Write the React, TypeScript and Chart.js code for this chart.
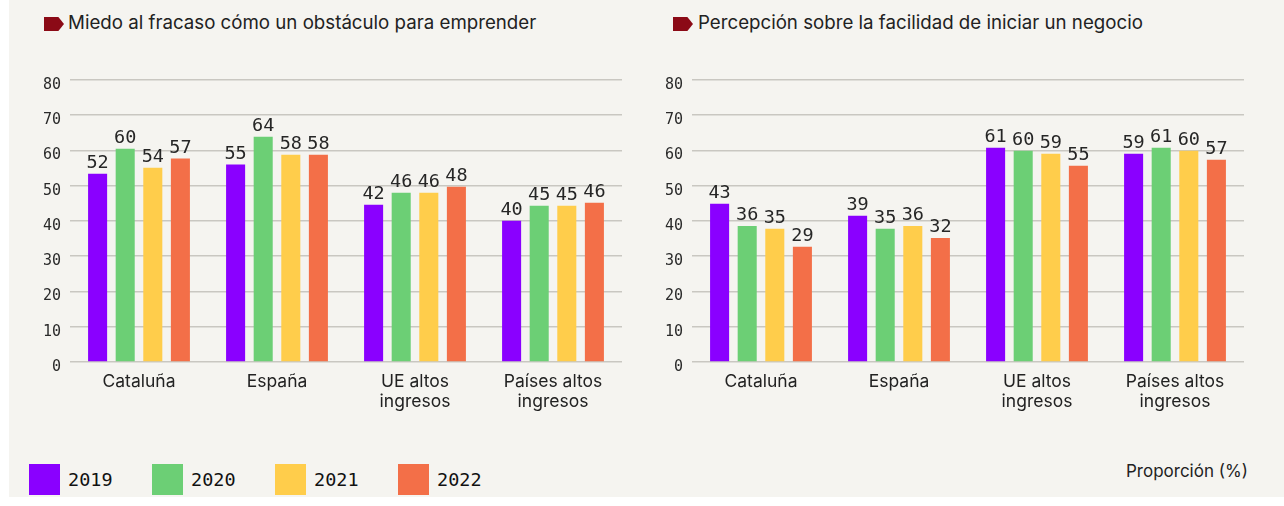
import React, { useEffect, useRef } from "react";
import { Chart, registerables } from "chart.js";

Chart.register(...registerables);

// ---- data ----
const categories: string[][] = [["Cataluña"], ["España"], ["UE altos", "ingresos"], ["Países altos", "ingresos"]];
const years = ["2019", "2020", "2021", "2022"];
const yearColors = ["#8a00ff", "#6ccf75", "#ffcd4b", "#f36f48"];
const yTicks = [0, 10, 20, 30, 40, 50, 60, 70, 80];

const titleMiedo = "Miedo al fracaso cómo un obstáculo para emprender";
const titleFacilidad = "Percepción sobre la facilidad de iniciar un negocio";
const unitLabel = "Proporción (%)";

// bar heights as drawn
const miedo2019 = [53.4, 56.0, 44.6, 40.1];
const miedo2020 = [60.5, 63.9, 48.0, 44.3];
const miedo2021 = [55.1, 58.8, 48.0, 44.3];
const miedo2022 = [57.7, 58.8, 49.7, 45.2];
// printed values
const miedoLbl2019 = [52, 55, 42, 40];
const miedoLbl2020 = [60, 64, 46, 45];
const miedoLbl2021 = [54, 58, 46, 45];
const miedoLbl2022 = [57, 58, 48, 46];

const facil2019 = [44.9, 41.5, 60.8, 59.1];
const facil2020 = [38.6, 37.8, 59.9, 60.8];
const facil2021 = [37.8, 38.6, 59.1, 59.9];
const facil2022 = [32.7, 35.2, 55.7, 57.4];
const facilLbl2019 = [43, 39, 61, 59];
const facilLbl2020 = [36, 35, 60, 61];
const facilLbl2021 = [35, 36, 59, 60];
const facilLbl2022 = [29, 32, 55, 57];

const SANS = "Inter, Roboto, 'Noto Sans', sans-serif";
const MONO = "'DejaVu Sans Mono', monospace";

const valueLabelPlugin = {
  id: "valueLabels",
  afterDatasetsDraw(chart: any, _args: any, opts: any) {
    const ctx = chart.ctx;
    const labels: number[][] = opts.labels || [];
    ctx.save();
    ctx.font = `18.5px ${MONO}`;
    ctx.fillStyle = "#262626";
    ctx.textAlign = "center";
    ctx.textBaseline = "alphabetic";
    chart.data.datasets.forEach((ds: any, di: number) => {
      const meta = chart.getDatasetMeta(di);
      meta.data.forEach((bar: any, i: number) => {
        const txt = labels[di] ? String(labels[di][i]) : "";
        ctx.fillText(txt, bar.x, bar.y - 6);
      });
    });
    ctx.restore();
  },
};

function BarPanel({ series, labels }: { series: number[][]; labels: number[][] }) {
  const ref = useRef<HTMLCanvasElement>(null);
  useEffect(() => {
    if (!ref.current) return;
    const chart = new Chart(ref.current, {
      type: "bar",
      data: {
        labels: categories,
        datasets: years.map((y, i) => ({
          label: y,
          data: series[i],
          backgroundColor: yearColors[i],
          borderWidth: 0,
          categoryPercentage: 0.8,
          barPercentage: 0.69,
        })),
      },
      options: {
        responsive: false,
        animation: false,
        maintainAspectRatio: false,
        layout: { padding: { top: 20, right: 18, left: 0, bottom: 0 } },
        plugins: {
          legend: { display: false },
          tooltip: { enabled: false },
          valueLabels: { labels },
        } as any,
        scales: {
          x: {
            grid: { display: false },
            border: { display: false },
            ticks: {
              color: "#222",
              font: { family: SANS, size: 17.5, lineHeight: 1.14 },
              padding: 2,
              maxRotation: 0,
              autoSkip: false,
            },
            afterFit: (s: any) => {
              s.height = 68;
            },
          },
          y: {
            min: yTicks[0],
            max: yTicks[yTicks.length - 1],
            afterBuildTicks: (s: any) => {
              s.ticks = yTicks.map((v) => ({ value: v }));
            },
            grid: { color: "#c9c7c1", lineWidth: 1.6, drawTicks: false },
            border: { display: false },
            ticks: {
              color: "#2a2a2a",
              font: { family: MONO, size: 15 },
              padding: 9,
              labelOffset: 5,
            },
            afterFit: (s: any) => {
              s.width = 50;
            },
          },
        },
      },
      plugins: [valueLabelPlugin],
    } as any);
    return () => chart.destroy();
  }, [series, labels]);
  return <canvas ref={ref} width={620} height={370} style={{ width: 620, height: 370, display: "block" }} />;
}

function Marker({ left, top }: { left: number; top: number }) {
  return (
    <div
      style={{
        position: "absolute",
        left,
        top,
        width: 20,
        height: 14,
        background: "#8b0a16",
        clipPath: "polygon(0 0, 72% 0, 100% 50%, 72% 100%, 0 100%)",
      }}
    />
  );
}

export default function App() {
  const miedoSeries = [miedo2019, miedo2020, miedo2021, miedo2022];
  const miedoLabels = [miedoLbl2019, miedoLbl2020, miedoLbl2021, miedoLbl2022];
  const facilSeries = [facil2019, facil2020, facil2021, facil2022];
  const facilLabels = [facilLbl2019, facilLbl2020, facilLbl2021, facilLbl2022];
  const titleStyle: React.CSSProperties = {
    position: "absolute",
    top: 11,
    fontFamily: SANS,
    fontSize: 18.7,
    color: "#222",
    whiteSpace: "nowrap",
    lineHeight: "24px",
  };
  return (
    <div style={{ position: "absolute", left: 0, top: 0, width: 1284, height: 506, background: "#fff", overflow: "hidden" }}>
      <div style={{ position: "absolute", left: 9, top: 0, width: 1275, height: 497, background: "#f5f4f0" }} />
      <Marker left={44} top={17} />
      <div style={{ ...titleStyle, left: 68 }}>{titleMiedo}</div>
      <Marker left={673} top={17} />
      <div style={{ ...titleStyle, left: 698 }}>{titleFacilidad}</div>
      <div style={{ position: "absolute", left: 20, top: 60 }}>
        <BarPanel series={miedoSeries} labels={miedoLabels} />
      </div>
      <div style={{ position: "absolute", left: 642, top: 60 }}>
        <BarPanel series={facilSeries} labels={facilLabels} />
      </div>
      {years.map((y, i) => (
        <div key={y} style={{ position: "absolute", left: 29 + i * 123, top: 464, height: 31, display: "flex", alignItems: "center" }}>
          <div style={{ width: 31, height: 31, background: yearColors[i] }} />
          <div style={{ marginLeft: 8, fontFamily: MONO, fontSize: 18.5, color: "#111", lineHeight: "26px" }}>{y}</div>
        </div>
      ))}
      <div style={{ position: "absolute", left: 1126, top: 460, fontFamily: SANS, fontSize: 17, color: "#222", lineHeight: "22px" }}>
        {unitLabel}
      </div>
    </div>
  );
}
